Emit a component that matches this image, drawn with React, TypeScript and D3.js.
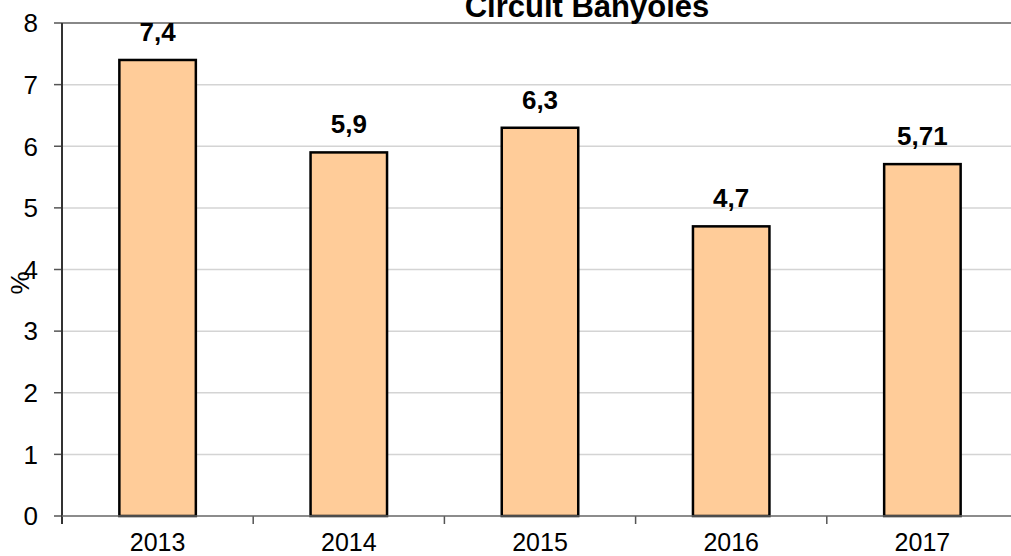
import * as React from 'react';
import * as d3 from 'd3';

const years = ['2013', '2014', '2015', '2016', '2017'];
const values = [7.4, 5.9, 6.3, 4.7, 5.71];
const valueLabels = ['7,4', '5,9', '6,3', '4,7', '5,71'];
const yTicks = [0, 1, 2, 3, 4, 5, 6, 7, 8];

const W = 1011, H = 556;
const left = 62, right = 1018, top = 23, bottom = 516;
const font = 'Liberation Sans, Arial, sans-serif';

export default function App() {
  const x = d3.scaleBand().domain(years).range([left, right]).paddingInner(0.6).paddingOuter(0.3);
  const band = d3.scaleBand().domain(years).range([left, right]);
  const y = d3.scaleLinear().domain([0, 8]).range([bottom, top]);

  return (
    <svg width={W} height={H} style={{ position: 'absolute', left: 0, top: 0 }}>
      {yTicks.map(t => (
        <g key={t}>
          {t > 0 && t < 8 && <line x1={left} x2={W} y1={y(t)} y2={y(t)} stroke="#d4d4d4" strokeWidth={1.5} />}
          <line x1={left - 8} x2={left} y1={y(t)} y2={y(t)} stroke="#555" strokeWidth={1.5} />
          <text x={38} y={y(t)} dy="0.36em" textAnchor="end" fontSize={26} fontFamily={font}>{t}</text>
        </g>
      ))}
      <line x1={left} x2={W} y1={top} y2={top} stroke="#888" strokeWidth={2} />
      {years.map((yr, i) => (
        <g key={yr}>
          <rect x={x(yr)!} y={y(values[i])} width={x.bandwidth()} height={bottom - y(values[i])}
            fill="#FFCC99" stroke="#000" strokeWidth={2.5} />
          <text x={x(yr)! + x.bandwidth() / 2} y={y(values[i]) - 19} textAnchor="middle"
            fontSize={26} fontWeight="bold" fontFamily={font}>{valueLabels[i]}</text>
          <text x={band(yr)! + band.bandwidth() / 2} y={551} textAnchor="middle"
            fontSize={25} fontFamily={font}>{yr}</text>
        </g>
      ))}
      {years.map(yr => (
        <line key={'t' + yr} x1={band(yr)!} x2={band(yr)!} y1={bottom} y2={bottom + 8} stroke="#555" strokeWidth={1.5} />
      ))}
      <line x1={left} x2={left} y1={top} y2={bottom + 8} stroke="#333" strokeWidth={2} />
      <line x1={left} x2={W} y1={bottom} y2={bottom} stroke="#666" strokeWidth={1.5} />
      <text x={587} y={17} textAnchor="middle" fontSize={31} fontWeight="bold" fontFamily={font}>Circuit Banyoles</text>
      <text transform="translate(29,283) rotate(-90)" textAnchor="middle" fontSize={26} fontFamily={font}>%</text>
    </svg>
  );
}
